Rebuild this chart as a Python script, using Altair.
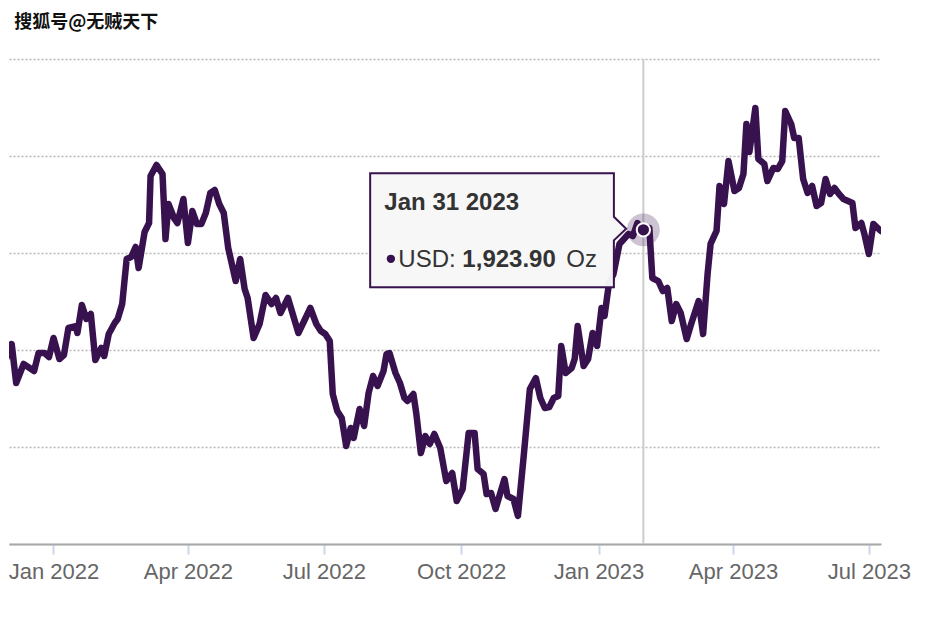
import altair as alt
import pandas as pd

# ---------------- data ----------------
dates = [
    "2021-11-27", "2021-11-28", "2021-12-04", "2021-12-07", "2021-12-12", "2021-12-19",
    "2021-12-22", "2021-12-26", "2021-12-29", "2022-01-01", "2022-01-05", "2022-01-08",
    "2022-01-11", "2022-01-16", "2022-01-17", "2022-01-20", "2022-01-23", "2022-01-26",
    "2022-01-29", "2022-02-02", "2022-02-04", "2022-02-07", "2022-02-11", "2022-02-13",
    "2022-02-16", "2022-02-19", "2022-02-22", "2022-02-25", "2022-02-27", "2022-03-03",
    "2022-03-06", "2022-03-07", "2022-03-11", "2022-03-15", "2022-03-17", "2022-03-19",
    "2022-03-23", "2022-03-25", "2022-03-29", "2022-04-01", "2022-04-04", "2022-04-07",
    "2022-04-10", "2022-04-13", "2022-04-16", "2022-04-19", "2022-04-22", "2022-04-25",
    "2022-04-28", "2022-05-03", "2022-05-06", "2022-05-09", "2022-05-11", "2022-05-15",
    "2022-05-19", "2022-05-23", "2022-05-27", "2022-05-30", "2022-06-02", "2022-06-07",
    "2022-06-14", "2022-06-22", "2022-06-26", "2022-06-29", "2022-07-02", "2022-07-05",
    "2022-07-07", "2022-07-10", "2022-07-13", "2022-07-16", "2022-07-19", "2022-07-21",
    "2022-07-25", "2022-07-28", "2022-07-31", "2022-08-03", "2022-08-06", "2022-08-10",
    "2022-08-12", "2022-08-14", "2022-08-18", "2022-08-21", "2022-08-24", "2022-08-26",
    "2022-08-30", "2022-09-01", "2022-09-04", "2022-09-07", "2022-09-10", "2022-09-13",
    "2022-09-17", "2022-09-21", "2022-09-25", "2022-09-28", "2022-10-02", "2022-10-06",
    "2022-10-10", "2022-10-12", "2022-10-16", "2022-10-18", "2022-10-21", "2022-10-24",
    "2022-10-30", "2022-11-01", "2022-11-05", "2022-11-08", "2022-11-12", "2022-11-16",
    "2022-11-20", "2022-11-23", "2022-11-26", "2022-11-29", "2022-12-02", "2022-12-05",
    "2022-12-07", "2022-12-10", "2022-12-14", "2022-12-16", "2022-12-18", "2022-12-22",
    "2022-12-25", "2022-12-28", "2022-12-31", "2023-01-03", "2023-01-05", "2023-01-08",
    "2023-01-11", "2023-01-15", "2023-01-18", "2023-01-21", "2023-01-24", "2023-01-27",
    "2023-01-29", "2023-01-31", "2023-02-04", "2023-02-06", "2023-02-10", "2023-02-13",
    "2023-02-16", "2023-02-19", "2023-02-22", "2023-02-25", "2023-03-01", "2023-03-04",
    "2023-03-09", "2023-03-12", "2023-03-15", "2023-03-17", "2023-03-21", "2023-03-23",
    "2023-03-26", "2023-03-29", "2023-04-02", "2023-04-05", "2023-04-08", "2023-04-10",
    "2023-04-12", "2023-04-16", "2023-04-18", "2023-04-22", "2023-04-24", "2023-04-28",
    "2023-05-01", "2023-05-04", "2023-05-06", "2023-05-10", "2023-05-12", "2023-05-15",
    "2023-05-18", "2023-05-21", "2023-05-24", "2023-05-27", "2023-05-30", "2023-06-02",
    "2023-06-05", "2023-06-08", "2023-06-11", "2023-06-14", "2023-06-20", "2023-06-22",
    "2023-06-26", "2023-06-28", "2023-07-01", "2023-07-04", "2023-07-09",
]
prices = [
    1833.0, 1781.4, 1806.2, 1766.0, 1785.6, 1778.4,
    1796.9, 1796.9, 1792.8, 1812.4, 1790.7, 1794.8,
    1822.7, 1824.7, 1817.5, 1846.4, 1832.0, 1837.1,
    1789.7, 1802.1, 1793.8, 1816.5, 1827.8, 1832.0,
    1847.4, 1893.8, 1895.9, 1906.2, 1884.5, 1921.6,
    1930.9, 1979.4, 1990.7, 1981.4, 1914.4, 1950.5,
    1935.1, 1930.9, 1955.7, 1910.3, 1943.3, 1929.9,
    1929.9, 1941.2, 1961.9, 1964.9, 1950.5, 1941.2,
    1905.2, 1871.1, 1893.8, 1862.9, 1853.6, 1812.4,
    1826.8, 1856.7, 1847.4, 1853.6, 1838.1, 1853.6,
    1817.5, 1843.3, 1826.8, 1819.6, 1816.5, 1809.3,
    1754.6, 1737.1, 1729.9, 1701.0, 1719.6, 1709.3,
    1739.2, 1721.6, 1755.7, 1773.2, 1762.9, 1778.4,
    1795.9, 1796.9, 1776.3, 1766.0, 1750.5, 1747.4,
    1754.6, 1734.0, 1693.8, 1711.3, 1703.1, 1713.4,
    1699.0, 1664.9, 1673.2, 1644.3, 1656.7, 1714.4,
    1714.4, 1677.3, 1672.2, 1651.5, 1652.6, 1636.1,
    1667.0, 1649.5, 1646.4, 1628.9, 1692.8, 1759.8,
    1771.1, 1750.5, 1740.2, 1741.2, 1750.5, 1752.6,
    1804.1, 1776.3, 1781.4, 1790.7, 1824.7, 1783.5,
    1790.7, 1817.5, 1804.1, 1843.3, 1835.1, 1869.1,
    1878.4, 1909.3, 1914.4, 1919.6, 1917.5, 1930.9,
    1925.8, 1923.9, 1925.8, 1874.2, 1871.1, 1860.8,
    1863.9, 1829.9, 1847.4, 1838.1, 1811.3, 1826.8,
    1850.5, 1816.5, 1878.4, 1909.3, 1922.7, 1969.1,
    1950.5, 1994.8, 1963.9, 1967.0, 1981.4, 2033.0,
    2004.1, 2049.5, 1996.9, 1991.8, 1974.2, 1987.6,
    1986.6, 1994.8, 2046.4, 2033.0, 2018.6, 2018.6,
    1976.3, 1961.9, 1969.1, 1948.5, 1951.5, 1976.3,
    1960.8, 1967.0, 1960.8, 1955.7, 1951.5, 1925.8,
    1930.9, 1919.6, 1899.0, 1929.9, 1922.7,
]

tick_dates = ["2022-01-01", "2022-04-01", "2022-07-01", "2022-10-01",
              "2023-01-01", "2023-04-01", "2023-07-01"]
grid_values = [1600, 1700, 1800, 1900, 2000, 2100]

tip_date = "2023-01-31"
tip_price = 1923.90
tip_header = "Jan 31 2023"
tip_series = "USD:"
tip_unit = "Oz"
watermark = "搜狐号@无贼天下"

# ---------------- styling ----------------
PURPLE = "#38124f"
W, H = 872, 485
FONT = "Liberation Sans"


def dt(s, hours=0):
    y, m, d = (int(v) for v in s.split("-"))
    return alt.DateTime(year=y, month=m, date=d, hours=hours, utc=True)


df = pd.DataFrame({"date": dates, "price": prices})
tip_df = pd.DataFrame({"date": [tip_date], "price": [tip_price]})

x_scale = alt.Scale(type="utc", domain=[dt("2021-12-02", 5), dt("2023-07-09", 3)])
y_scale = alt.Scale(domain=[1600, 2100], nice=False, zero=False)

x_enc = alt.X(
    "date:T",
    scale=x_scale,
    title=None,
    axis=alt.Axis(
        values=[dt(s) for s in tick_dates],
        labelExpr="utcFormat(datum.value, '%b %Y')",
        labelFont=FONT,
        labelFontSize=22,
        labelColor="#666666",
        labelPadding=7,
        labelFlush=False,
        labelOverlap=False,
        tickColor="#ccd6eb",
        tickSize=10,
        tickWidth=2,
        domainColor="#a8a8a8",
        domainWidth=2,
        grid=False,
    ),
)
y_enc = alt.Y(
    "price:Q",
    scale=y_scale,
    title=None,
    axis=alt.Axis(
        values=grid_values,
        labels=False,
        ticks=False,
        domain=False,
        grid=True,
        gridColor="#b8b8b8",
        gridDash=[2, 2],
        gridWidth=1.5,
    ),
)

base = alt.Chart(df).encode(x=x_enc, y=y_enc)
tip = alt.Chart(tip_df).encode(x=alt.X("date:T"), y=alt.Y("price:Q"))

crosshair = alt.Chart(tip_df).mark_rule(color="#cccccc", strokeWidth=2).encode(
    x=alt.X("date:T"), y=alt.value(0), y2=alt.value(H)
)

line = base.mark_line(
    color=PURPLE, strokeWidth=6.5, clip=True, strokeJoin="round", strokeCap="round"
)

halo = tip.mark_circle(size=1075, color=PURPLE, opacity=0.25)
marker = tip.mark_circle(size=177, color=PURPLE, opacity=1, stroke="white", strokeWidth=2)

BOX_PATH = ("M-1,-0.441L0.904,-0.441L0.904,-0.102L1,-0.008L0.904,0.082"
            "L0.904,0.449L-1,0.449Z")
shadow = tip.mark_point(
    shape=BOX_PATH, size=65536, filled=True, fill="#000000", fillOpacity=0.06,
    strokeWidth=0, xOffset=-144.2, yOffset=1.5
)
box = tip.mark_point(
    shape=BOX_PATH, size=65536, filled=True, fill="#f7f7f7", fillOpacity=0.97,
    stroke=PURPLE, strokeWidth=2, strokeOpacity=1, opacity=1, xOffset=-145.2, yOffset=0
)

header = tip.mark_text(
    text=tip_header, font=FONT, fontSize=24, fontWeight="bold", color="#333333",
    align="left", baseline="alphabetic", dx=-259, dy=-20
)
bullet = tip.mark_circle(size=70, color=PURPLE, opacity=1, xOffset=-252.5, yOffset=29)
series = tip.mark_text(
    text=tip_series, font=FONT, fontSize=24, color="#333333",
    align="left", baseline="alphabetic", dx=-245, dy=37
)
value = tip.mark_text(
    font=FONT, fontSize=24, fontWeight="bold", color="#333333",
    align="left", baseline="alphabetic", dx=-181, dy=37
).encode(text=alt.Text("price:Q", format=",.2f"))
unit = tip.mark_text(
    text=tip_unit, font=FONT, fontSize=24, color="#333333",
    align="left", baseline="alphabetic", dx=-77, dy=37
)

chart = (
    alt.layer(line, crosshair, halo, marker, shadow, box, header, bullet, series, value, unit)
    .properties(
        width=W,
        height=H,
        background="white",
        padding={"left": 0, "top": 6, "right": 5, "bottom": 5},
        title=alt.TitleParams(
            text=watermark,
            anchor="start",
            font="Noto Sans CJK SC",
            fontSize=18,
            fontWeight="bold",
            color="#111111",
            offset=26,
            dx=6,
        ),
    )
    .configure_view(strokeWidth=0, strokeOpacity=0)
    .configure_axisX(grid=False)
)

chart.save("out.html", embed_options={"renderer": "svg", "actions": False})
